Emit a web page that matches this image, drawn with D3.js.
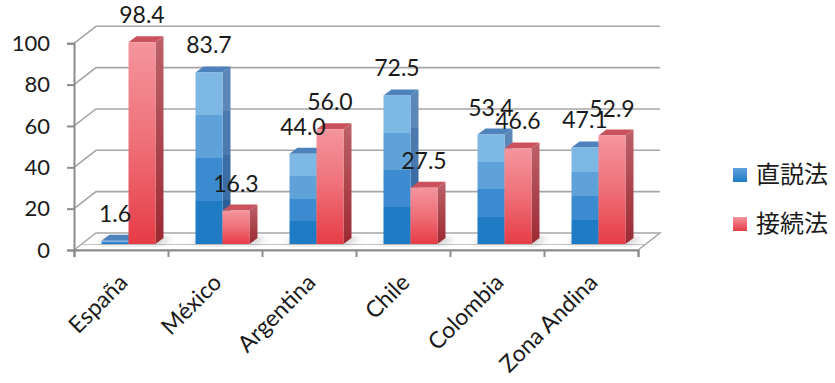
<!DOCTYPE html>
<html>
<head>
<meta charset="utf-8">
<script src="https://cdn.jsdelivr.net/npm/d3@7"></script>
<style>
  html, body { margin: 0; padding: 0; background: #ffffff; }
  svg { display: block; }
</style>
</head>
<body>
<svg id="chart" width="835" height="383"></svg>
<script>
// Chart data
const categories = ["España", "México", "Argentina", "Chile", "Colombia", "Zona Andina"];
const seriesNames = ["直説法", "接続法"];
const indicativo = [1.6, 83.7, 44.0, 72.5, 53.4, 47.1];
const subjuntivo = [98.4, 16.3, 56.0, 27.5, 46.6, 52.9];
const yTicks = [0, 20, 40, 60, 80, 100];

const seriesValues = [indicativo, subjuntivo];

const svg = d3.select("#chart");
const defs = svg.append("defs");

// Layout of the pseudo-3D plot
const plotLeft = 74, plotRight = 638;
const wallDx = 22, wallDy = -17;   // back-wall offset of gridlines
const barDx = 8, barDy = -6;       // depth of each bar

const x0 = d3.scaleBand().domain(categories).range([plotLeft, plotRight]);
const x1 = d3.scaleBand().domain(seriesNames).range([27.5, 81.5]);
const yGrid = d3.scaleLinear().domain([0, 100]).range([250, 43.3]);
const yBar = d3.scaleLinear().domain([0, 100]).range([244, 39]);
const xEdge = d3.scaleLinear().domain([0, categories.length]).range([plotLeft, plotRight]);

const fontLatin = "Lato, 'Open Sans', sans-serif";
const fontCJK = "'Noto Sans CJK JP', 'Noto Sans CJK SC', sans-serif";

// Gradients
function vGrad(id, stops) {
  const g = defs.append("linearGradient").attr("id", id)
    .attr("x1", 0).attr("y1", 0).attr("x2", 0).attr("y2", 1);
  stops.forEach(s => g.append("stop").attr("offset", s[0]).attr("stop-color", s[1]));
}
// banded blue front face (top to bottom)
vGrad("blueFront", [
  [0, "#7db7e4"], [0.25, "#7db7e4"], [0.25, "#5fa2da"], [0.5, "#5fa2da"],
  [0.5, "#3c8bd0"], [0.75, "#3c8bd0"], [0.75, "#1f7bc4"], [1, "#1f7bc4"]
]);
vGrad("blueSide", [
  [0, "#5b86b8"], [0.25, "#5b86b8"], [0.25, "#4b79ad"], [0.5, "#4b79ad"],
  [0.5, "#3b6ca3"], [0.75, "#3b6ca3"], [0.75, "#2c5f98"], [1, "#2c5f98"]
]);
vGrad("redFront", [[0, "#f4959d"], [0.5, "#ef6f78"], [1, "#e63c46"]]);
vGrad("redSide", [[0, "#bd6169"], [1, "#9c2a32"]]);

const blur = defs.append("filter").attr("id", "shadowBlur")
  .attr("x", "-50%").attr("y", "-50%").attr("width", "200%").attr("height", "200%");
blur.append("feGaussianBlur").attr("stdDeviation", 3);

const gridColor = "#a6a6a6";

// Floor
const floor = svg.append("g");
floor.append("path")
  .attr("d", `M${plotLeft},250 L${plotLeft + wallDx},233 L${plotRight + wallDx},233 L${plotRight},250 Z`)
  .attr("fill", "#ffffff").attr("stroke", gridColor).attr("stroke-width", 1.5);
floor.append("line")
  .attr("x1", plotLeft + 7).attr("x2", plotRight + 7).attr("y1", 244.5).attr("y2", 244.5)
  .attr("stroke", "#c4c4c4").attr("stroke-width", 1.2);

// Gridlines: short diagonal from the axis to the back wall, then across
const grid = svg.append("g");
yTicks.filter(v => v > 0).forEach(v => {
  const yf = yGrid(v);
  grid.append("path")
    .attr("d", `M${plotLeft},${yf} L${plotLeft + wallDx},${yf + wallDy} L${plotRight + wallDx},${yf + wallDy}`)
    .attr("fill", "none").attr("stroke", gridColor).attr("stroke-width", 1.6);
});

// Bar shadows on the floor
const shadows = svg.append("g").attr("filter", "url(#shadowBlur)");
categories.forEach((c, i) => {
  const xs = x0(c) + x1.range()[0];
  const w = x1.range()[1] - x1.range()[0];
  shadows.append("path")
    .attr("d", `M${xs - 6},244 L${xs + w + 4},244 L${xs + w + 18},238 L${xs + 8},238 Z`)
    .attr("fill", "#8c8c8c").attr("opacity", 0.55);
});

// Bars
const bars = svg.append("g");
const faceColors = [
  { front: "url(#blueFront)", side: "url(#blueSide)", top: "#4d82bd" },
  { front: "url(#redFront)", side: "url(#redSide)", top: "#c9525c" }
];
categories.forEach((c, i) => {
  seriesNames.forEach((s, k) => {
    const v = seriesValues[k][i];
    const x = x0(c) + x1(s);
    const w = x1.bandwidth();
    const yt = yBar(v), yb = yBar(0);
    const g = bars.append("g");
    g.append("path")
      .attr("d", `M${x + w},${yt} L${x + w + barDx},${yt + barDy} L${x + w + barDx},${yb + barDy} L${x + w},${yb} Z`)
      .attr("fill", faceColors[k].side);
    g.append("path")
      .attr("d", `M${x},${yt} L${x + barDx},${yt + barDy} L${x + w + barDx},${yt + barDy} L${x + w},${yt} Z`)
      .attr("fill", faceColors[k].top);
    g.append("rect")
      .attr("x", x).attr("y", yt).attr("width", w).attr("height", yb - yt)
      .attr("fill", faceColors[k].front);
  });
});

// Value labels
const labels = svg.append("g")
  .attr("font-family", fontLatin).attr("font-size", 23).attr("fill", "#1a1a1a")
  .attr("text-anchor", "middle");
categories.forEach((c, i) => {
  seriesNames.forEach((s, k) => {
    const v = seriesValues[k][i];
    labels.append("text")
      .attr("x", x0(c) + x1(s) + x1.bandwidth() / 2)
      .attr("y", yBar(v) - 19)
      .text(d3.format(".1f")(v));
  });
});

// Y axis
const yAxis = svg.append("g")
  .attr("transform", `translate(${plotLeft},0)`)
  .call(d3.axisLeft(yGrid).tickValues(yTicks).tickSize(7).tickPadding(17).tickFormat(d3.format("d")));
yAxis.select(".domain").attr("stroke", "#8c8c8c").attr("stroke-width", 2);
yAxis.selectAll(".tick line").attr("stroke", "#8c8c8c").attr("stroke-width", 2);
yAxis.selectAll(".tick text")
  .attr("font-family", fontLatin).attr("font-size", 22).attr("fill", "#1a1a1a");

// X axis with ticks at category boundaries
const xAxis = svg.append("g")
  .attr("transform", "translate(0,250)")
  .call(d3.axisBottom(xEdge).tickValues(d3.range(categories.length + 1)).tickSize(7).tickFormat(""));
xAxis.select(".domain").attr("stroke", "#8c8c8c").attr("stroke-width", 2);
xAxis.selectAll(".tick line").attr("stroke", "#8c8c8c").attr("stroke-width", 2);

// Category labels, rotated
svg.append("g")
  .attr("font-family", fontLatin).attr("font-size", 23).attr("fill", "#1a1a1a")
  .selectAll("text").data(categories).join("text")
  .attr("text-anchor", "end")
  .attr("transform", d => `translate(${x0(d) + x0.bandwidth() / 2 + 8},284) rotate(-45)`)
  .text(d => d);

// Legend
const legend = svg.append("g");
const legendSwatch = [["#5fa2da", "#1f7bc4"], ["#f4959d", "#e63c46"]];
legendSwatch.forEach((cs, k) => {
  vGrad("legendGrad" + k, [[0, cs[0]], [1, cs[1]]]);
});
seriesNames.forEach((s, k) => {
  const cy = 175 + k * 49;
  legend.append("rect")
    .attr("x", 733).attr("y", cy - 7).attr("width", 14).attr("height", 14)
    .attr("fill", `url(#legendGrad${k})`);
  legend.append("text")
    .attr("x", 756).attr("y", cy).attr("dy", "0.35em")
    .attr("font-family", fontCJK).attr("font-size", 24).attr("fill", "#1a1a1a")
    .text(s);
});
</script>
</body>
</html>
